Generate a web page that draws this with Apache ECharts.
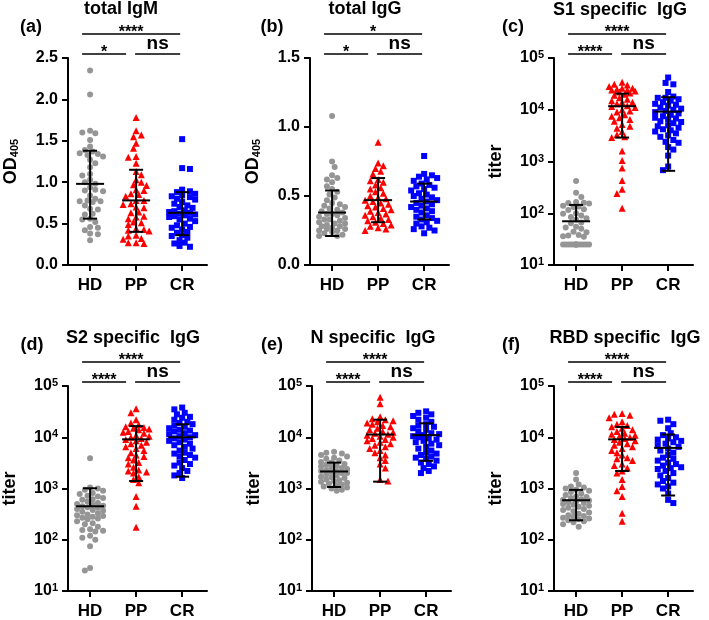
<!DOCTYPE html>
<html><head><meta charset="utf-8">
<script src="https://cdn.jsdelivr.net/npm/echarts@6/dist/echarts.min.js"></script>
<style>html,body{margin:0;padding:0;background:#fff}#c{width:709px;height:620px}</style>
</head><body><div id="c"></div>
<script>
const groups = ['HD', 'PP', 'CR'];
const panelTitles = ['total IgM', 'total IgG', 'S1 specific  IgG', 'S2 specific  IgG', 'N specific  IgG', 'RBD specific  IgG'];
const panelLetters = ['(a)', '(b)', '(c)', '(d)', '(e)', '(f)'];
const yNames = ['OD405', 'OD405', 'titer', 'titer', 'titer', 'titer'];
const sigTop = ['****', '*', '****', '****', '****', '****'];
const sigLeft = ['*', '*', '****', '****', '****', '****'];
const sigRight = ['ns', 'ns', 'ns', 'ns', 'ns', 'ns'];
const linTicksA = [0, 0.5, 1.0, 1.5, 2.0, 2.5];
const linTicksB = [0, 0.5, 1.0, 1.5];
const logTicks = [10, 100, 1000, 10000, 100000];

// (a) total IgM, OD405
const igmHD = [2.35, 2.06, 1.62, 1.60, 1.59, 1.51, 1.43, 1.39, 1.37, 1.35, 1.34, 1.33, 1.31, 1.27, 1.23, 1.18, 1.10, 1.08, 1.03, 1.00, 0.98, 0.94, 0.91, 0.90, 0.89, 0.84, 0.80, 0.78, 0.77, 0.77, 0.76, 0.72, 0.68, 0.67, 0.62, 0.61, 0.56, 0.55, 0.52, 0.46, 0.45, 0.42, 0.38, 0.37, 0.30];
const igmPP = [1.78, 1.62, 1.57, 1.55, 1.47, 1.41, 1.31, 1.30, 1.23, 1.13, 1.09, 1.03, 1.00, 0.97, 0.96, 0.91, 0.90, 0.86, 0.85, 0.83, 0.78, 0.78, 0.74, 0.73, 0.70, 0.69, 0.64, 0.63, 0.59, 0.58, 0.56, 0.52, 0.51, 0.49, 0.44, 0.43, 0.42, 0.41, 0.36, 0.35, 0.32, 0.31, 0.27, 0.27, 0.26];
const igmCR = [1.52, 1.17, 1.16, 0.91, 0.89, 0.88, 0.86, 0.84, 0.83, 0.82, 0.80, 0.79, 0.76, 0.74, 0.72, 0.70, 0.69, 0.66, 0.65, 0.64, 0.63, 0.62, 0.61, 0.60, 0.59, 0.58, 0.56, 0.55, 0.53, 0.50, 0.48, 0.46, 0.45, 0.43, 0.40, 0.39, 0.36, 0.35, 0.33, 0.30, 0.27, 0.26, 0.23, 0.22];
const igmMid = [0.98, 0.78, 0.63];
const igmLow = [0.56, 0.40, 0.36];
const igmHigh = [1.38, 1.15, 0.88];

// (b) total IgG, OD405
const iggHD = [1.08, 0.75, 0.71, 0.65, 0.63, 0.62, 0.60, 0.57, 0.55, 0.53, 0.51, 0.49, 0.47, 0.45, 0.44, 0.43, 0.42, 0.41, 0.40, 0.39, 0.38, 0.37, 0.37, 0.36, 0.35, 0.34, 0.33, 0.33, 0.32, 0.31, 0.30, 0.30, 0.29, 0.28, 0.28, 0.27, 0.26, 0.26, 0.25, 0.25, 0.24, 0.23, 0.22, 0.21, 0.21];
const iggPP = [0.89, 0.74, 0.72, 0.70, 0.68, 0.66, 0.62, 0.61, 0.60, 0.58, 0.56, 0.55, 0.53, 0.52, 0.50, 0.49, 0.48, 0.47, 0.46, 0.45, 0.44, 0.43, 0.42, 0.41, 0.40, 0.39, 0.38, 0.37, 0.36, 0.35, 0.34, 0.33, 0.32, 0.31, 0.30, 0.29, 0.28, 0.27, 0.26, 0.25];
const iggCR = [0.79, 0.66, 0.65, 0.64, 0.63, 0.62, 0.61, 0.59, 0.58, 0.57, 0.56, 0.55, 0.54, 0.52, 0.51, 0.50, 0.49, 0.48, 0.47, 0.46, 0.45, 0.44, 0.43, 0.42, 0.41, 0.40, 0.39, 0.38, 0.36, 0.35, 0.34, 0.33, 0.32, 0.31, 0.30, 0.28, 0.27, 0.26, 0.25, 0.23];
const iggMid = [0.38, 0.47, 0.46];
const iggLow = [0.21, 0.31, 0.33];
const iggHigh = [0.54, 0.63, 0.59];

// (c) S1 specific IgG, titer
const s1HD = [420, 250, 205, 165, 160, 158, 155, 140, 135, 132, 120, 115, 100, 98, 90, 85, 80, 75, 66, 64, 55, 53, 50, 44, 43, 38, 37, 36, 35, 25, 25, 25, 25, 25, 25, 25, 25, 25, 25, 25, 25, 25, 25];
const s1PP = [34000, 31000, 30000, 28000, 26000, 26000, 25000, 24000, 24000, 23000, 22000, 21000, 20000, 19000, 17000, 16000, 15000, 14000, 14000, 13000, 12000, 11500, 11000, 10000, 9500, 9000, 8000, 7500, 7000, 6500, 6000, 5200, 4800, 4400, 3800, 3300, 3000, 2900, 1600, 1050, 750, 430, 290, 240, 125];
const s1CR = [42000, 33000, 31000, 22000, 18000, 17000, 17000, 16000, 15000, 14000, 13000, 12500, 12000, 11000, 10500, 10000, 9500, 9000, 8500, 8000, 7500, 7000, 6800, 6500, 6000, 5800, 5500, 5000, 4800, 4500, 4200, 4000, 3800, 3500, 3200, 3000, 2600, 2400, 2300, 1900, 1700, 1300, 800, 680];
const s1Mid = [70, 11700, 9200];
const s1Low = [null, 2900, 660];
const s1High = [145, 20500, 17500];

// (d) S2 specific IgG, titer
const s2HD = [3900, 1050, 1000, 950, 900, 820, 780, 720, 700, 650, 620, 600, 560, 520, 500, 480, 460, 450, 430, 420, 400, 380, 370, 350, 330, 310, 300, 290, 280, 270, 260, 250, 230, 210, 200, 180, 160, 155, 150, 145, 120, 110, 100, 75, 28, 25];
const s2PP = [36000, 30000, 22000, 19000, 17500, 16000, 15500, 15000, 14500, 14000, 13000, 12500, 12000, 11000, 10500, 10000, 9500, 9000, 8500, 8000, 7500, 7000, 6500, 6000, 5500, 5000, 4500, 4200, 4000, 3600, 3200, 3000, 2600, 2300, 2200, 2100, 2000, 1700, 1500, 1300, 700, 450, 175];
const s2CR = [38000, 35000, 30000, 28000, 25000, 24000, 22000, 20000, 19000, 18000, 17000, 16000, 15000, 14000, 13500, 13000, 12000, 11500, 11000, 10500, 10000, 9500, 9000, 8500, 8000, 7500, 7000, 6500, 6000, 5500, 5000, 4800, 4500, 4200, 4000, 3600, 3200, 3000, 2800, 2500, 2200, 2000, 1800, 1600];
const s2Mid = [450, 9100, 10000];
const s2Low = [null, 1400, 1700];
const s2High = [1010, 16500, 17900];

// (e) N specific IgG, titer
const nHD = [5200, 5000, 4800, 4500, 4200, 4000, 3800, 3500, 3300, 3200, 3000, 2900, 2800, 2700, 2600, 2500, 2400, 2300, 2200, 2200, 2100, 2000, 2000, 1900, 1800, 1700, 1650, 1600, 1500, 1450, 1400, 1350, 1300, 1250, 1200, 1150, 1100, 1050, 1000, 950, 900];
const nPP = [60000, 45000, 25000, 23000, 22000, 21000, 20000, 19000, 18000, 17000, 16000, 15000, 14000, 13000, 12500, 12000, 11500, 11000, 10500, 10000, 9500, 9000, 8500, 8000, 7500, 7000, 6500, 6000, 5500, 5000, 4500, 4000, 3500, 3000, 2500, 1500, 1400];
const nCR = [32000, 30000, 28000, 26000, 24000, 22000, 20000, 18000, 17000, 16000, 15000, 14000, 13000, 12000, 11500, 11000, 10500, 10000, 9500, 9000, 8500, 8000, 7500, 7000, 6500, 6000, 5500, 5000, 4800, 4500, 4200, 4000, 3800, 3500, 3200, 3000, 2700, 2500, 2200, 2000];
const nMid = [2150, 11300, 11000];
const nLow = [1070, 1360, 3470];
const nHigh = [3200, 22000, 18700];

// (f) RBD specific IgG, titer
const rbdHD = [2000, 1500, 1200, 1100, 1050, 1000, 950, 900, 850, 800, 750, 700, 680, 650, 620, 600, 580, 560, 540, 520, 500, 480, 460, 440, 420, 400, 380, 360, 340, 320, 300, 290, 280, 270, 260, 250, 240, 230, 220, 200, 180];
const rbdPP = [29000, 28000, 27000, 24000, 20000, 18000, 17000, 16000, 15000, 14000, 13000, 12000, 11500, 11000, 10500, 10000, 9500, 9000, 8500, 8000, 7500, 7000, 6500, 6000, 5500, 5000, 4500, 4000, 3800, 3500, 3000, 2800, 2500, 2200, 2000, 1500, 1100, 900, 700, 330, 230];
const rbdCR = [22000, 21000, 18000, 15000, 12000, 11000, 10000, 9500, 9000, 8500, 8000, 7500, 7000, 6500, 6000, 5500, 5000, 4500, 4000, 3800, 3500, 3200, 3000, 2800, 2600, 2500, 2400, 2200, 2000, 1800, 1600, 1400, 1300, 1200, 1100, 1000, 800, 600, 520];
const rbdMid = [590, 9100, 6200];
const rbdLow = [240, 2200, 730];
const rbdHigh = [940, 15900, 11300];

const panelData = [
  { sets: [igmHD, igmPP, igmCR], mid: igmMid, low: igmLow, high: igmHigh, log: false, min: 0, max: 2.5, ticks: linTicksA },
  { sets: [iggHD, iggPP, iggCR], mid: iggMid, low: iggLow, high: iggHigh, log: false, min: 0, max: 1.5, ticks: linTicksB },
  { sets: [s1HD, s1PP, s1CR], mid: s1Mid, low: s1Low, high: s1High, log: true, min: 10, max: 100000, ticks: logTicks },
  { sets: [s2HD, s2PP, s2CR], mid: s2Mid, low: s2Low, high: s2High, log: true, min: 10, max: 100000, ticks: logTicks },
  { sets: [nHD, nPP, nCR], mid: nMid, low: nLow, high: nHigh, log: true, min: 10, max: 100000, ticks: logTicks },
  { sets: [rbdHD, rbdPP, rbdCR], mid: rbdMid, low: rbdLow, high: rbdHigh, log: true, min: 10, max: 100000, ticks: logTicks }
];

// ---- layout (pixels) ----
const FONT = '"Liberation Sans", Arial, sans-serif';
const layout = [
  { left: 68, top: 58, tx: 121, ty: 9, lx: 31, ly: 27 },
  { left: 310, top: 58, tx: 365, ty: 9, lx: 272, ly: 27 },
  { left: 554, top: 58, tx: 620, ty: 10, lx: 513, ly: 27 },
  { left: 68, top: 386, tx: 133, ty: 338, lx: 32, ly: 345 },
  { left: 312, top: 386, tx: 373, ty: 338, lx: 272, ly: 345 },
  { left: 554, top: 386, tx: 625, ty: 338, lx: 511, ly: 345 }
];
const GW = 139, GH = 207, XMIN = -0.48, XMAX = 2.54;
const PXU = GW / (XMAX - XMIN);
const colors = ['#959595', '#ff0000', '#0000ff'];
const symbols = ['circle', 'triangle', 'rect'];
const sizes = [6, 7, 6];

function swarm(values, toPx) {
  const D = 5.6, step = 2.6, maxOff = 14.5;
  const order = values.map((v, i) => i).sort((a, b) => values[b] - values[a]);
  const placed = [];
  const off = new Array(values.length);
  let flip = 1;
  order.forEach(i => {
    const y = toPx(values[i]);
    const cands = [0];
    for (let k = 1; k * step <= maxOff; k++) { cands.push(flip * k * step, -flip * k * step); }
    flip = -flip;
    let best = 0, bestScore = -1;
    for (const c of cands) {
      let mind = Infinity;
      for (const p of placed) { const d = Math.hypot(p[0] - c, p[1] - y); if (d < mind) mind = d; }
      if (mind >= D) { best = c; break; }
      if (mind > bestScore) { bestScore = mind; best = c; }
    }
    placed.push([best, y]);
    off[i] = best / PXU;
  });
  return off;
}

const grids = [], xAxes = [], yAxes = [], series = [], titles = [];
const richAxis = {
  b: { fontSize: 16, fontWeight: 'bold', fontFamily: FONT, color: '#000' },
  s: { fontSize: 11, fontWeight: 'bold', fontFamily: FONT, color: '#000', verticalAlign: 'top', padding: [0, 0, 6, 0] }
};

panelData.forEach((pd, i) => {
  const L = layout[i];
  grids.push({ left: L.left, top: L.top, width: GW, height: GH, containLabel: false });
  xAxes.push({
    gridIndex: i, type: 'value', min: XMIN, max: XMAX,
    axisLine: { show: true, onZero: false, lineStyle: { color: '#000', width: 2 } },
    splitLine: { show: false },
    axisTick: { show: true, customValues: [0, 1, 2], length: 6, lineStyle: { color: '#000', width: 2 } },
    axisLabel: { customValues: [0, 1, 2], formatter: v => groups[Math.round(v)], fontSize: 17, fontWeight: 'bold', fontFamily: FONT, color: '#000', margin: 12 }
  });
  const isOD = yNames[i] === 'OD405';
  const y = {
    gridIndex: i, min: pd.min, max: pd.max,
    axisLine: { show: true, onZero: false, lineStyle: { color: '#000', width: 2 } },
    splitLine: { show: false },
    axisTick: { show: true, length: 6, lineStyle: { color: '#000', width: 2 } },
    minorTick: { show: false },
    nameLocation: 'middle', nameRotate: 90, nameGap: isOD ? 48 : 49,
    nameTextStyle: {
      fontSize: 17, fontWeight: 'bold', fontFamily: FONT, color: '#000',
      rich: {
        a: { fontSize: 18, fontWeight: 'bold', fontFamily: FONT, color: '#000' },
        s: { fontSize: 11, fontWeight: 'bold', fontFamily: FONT, color: '#000', verticalAlign: 'bottom' }
      }
    },
    name: isOD ? '{a|OD}{s|405}' : '{a|titer}'
  };
  if (pd.log) {
    Object.assign(y, { type: 'log', logBase: 10 });
    y.axisLabel = { formatter: v => '{b|10}{s|' + Math.round(Math.log10(v)) + '}', rich: richAxis, margin: 10, color: '#000' };
  } else {
    Object.assign(y, { type: 'value', interval: 0.5 });
    y.axisLabel = { formatter: v => v.toFixed(1), fontSize: 16, fontWeight: 'bold', fontFamily: FONT, color: '#000', margin: 10 };
  }
  yAxes.push(y);

  const toPx = pd.log
    ? v => (Math.log10(v) - Math.log10(pd.min)) / (Math.log10(pd.max) - Math.log10(pd.min)) * GH
    : v => (v - pd.min) / (pd.max - pd.min) * GH;

  pd.sets.forEach((vals, g) => {
    const off = swarm(vals, toPx);
    series.push({
      type: 'scatter', xAxisIndex: i, yAxisIndex: i, silent: true,
      symbol: symbols[g], symbolSize: sizes[g],
      itemStyle: { color: colors[g], opacity: 1 },
      data: vals.map((v, k) => [g + off[k], v]), z: 2
    });
  });

  series.push({
    type: 'custom', xAxisIndex: i, yAxisIndex: i, silent: true, z: 5,
    encode: { x: 0, y: 1 },
    data: groups.map((_, g) => [g, pd.mid[g], pd.low[g] == null ? pd.mid[g] : pd.low[g], pd.high[g]]),
    renderItem: (params, api) => {
      const x = api.value(0);
      const pm = api.coord([x, api.value(1)]);
      const pl = api.coord([x, api.value(2)]);
      const ph = api.coord([x, api.value(3)]);
      const st = { stroke: '#000', lineWidth: 2 };
      const ch = [
        { type: 'line', shape: { x1: pm[0] - 14, y1: pm[1], x2: pm[0] + 14, y2: pm[1] }, style: st },
        { type: 'line', shape: { x1: pm[0], y1: ph[1], x2: pm[0], y2: pl[1] }, style: st },
        { type: 'line', shape: { x1: pm[0] - 7, y1: ph[1], x2: pm[0] + 7, y2: ph[1] }, style: st }
      ];
      if (Math.abs(pl[1] - pm[1]) > 0.5) {
        ch.push({ type: 'line', shape: { x1: pm[0] - 7, y1: pl[1], x2: pm[0] + 7, y2: pl[1] }, style: st });
      }
      return { type: 'group', children: ch };
    }
  });

  titles.push({ text: panelTitles[i], left: L.tx, top: L.ty - 9, textAlign: 'center', padding: 0,
    textStyle: { fontSize: 18, fontWeight: 'bold', fontFamily: FONT, color: '#000' } });
  titles.push({ text: panelLetters[i], left: L.lx, top: L.ly - 9, textAlign: 'center', padding: 0,
    textStyle: { fontSize: 18, fontWeight: 'bold', fontFamily: FONT, color: '#000' } });
});

const chart = echarts.init(document.getElementById('c'), null, { renderer: 'canvas' });
chart.setOption({
  animation: false, backgroundColor: '#fff',
  title: titles, grid: grids, xAxis: xAxes, yAxis: yAxes, series: series
});

// significance brackets
const gfx = [];
layout.forEach((L, i) => {
  const px = v => chart.convertToPixel({ xAxisIndex: i }, v);
  const hd = px(0), pp = px(1), cr = px(2);
  const yTop = L.top - 24, yLow = L.top - 4;
  const ls = { stroke: '#000', lineWidth: 1.5 };
  const segs = [[hd - 8, cr - 2, yTop], [hd - 8, pp - 10, yLow], [pp - 1, cr - 2, yLow]];
  segs.forEach(s => gfx.push({ type: 'line', silent: true, shape: { x1: s[0], y1: s[2], x2: s[1], y2: s[2] }, style: ls }));
  const labels = [[sigTop[i], (hd - 8 + cr - 2) / 2, yTop], [sigLeft[i], (hd - 8 + pp - 10) / 2, yLow], [sigRight[i], (pp - 1 + cr - 2) / 2, yLow]];
  labels.forEach(t => {
    const isNs = t[0] === 'ns';
    gfx.push({ type: 'text', silent: true, style: {
      text: t[0], x: t[1], y: isNs ? t[2] - 1 : t[2] + 7,
      align: 'center', verticalAlign: 'bottom', fill: '#000',
      font: isNs ? 'bold 19px ' + FONT : 'bold 16px ' + FONT
    } });
  });
});
chart.setOption({ graphic: gfx });
</script>
</body></html>
